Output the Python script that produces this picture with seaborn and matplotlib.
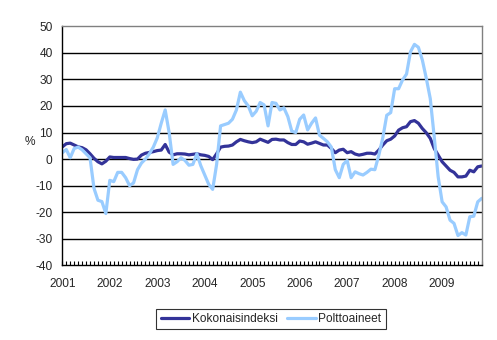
import matplotlib
matplotlib.use("Agg")
import matplotlib.pyplot as plt
from matplotlib.ticker import MultipleLocator
import numpy as np
import pandas as pd
import seaborn as sns

# Annual change (%) by month, January 2001 - November 2009
kokonaisindeksi = [
    4.6, 5.8, 6.0, 5.3, 4.6, 4.3, 3.5, 2.0, 0.3, -1.0, -1.8, -0.8,
    0.8, 0.6, 0.6, 0.6, 0.6, 0.2, -0.1, 0.0, 1.5, 2.2, 2.5, 2.8,
    3.2, 3.4, 5.5, 2.6, 1.6, 2.0, 2.0, 1.9, 1.6, 1.8, 2.0, 1.6,
    1.4, 1.0, -0.2, 2.0, 4.5, 4.8, 4.9, 5.3, 6.5, 7.4, 6.9, 6.5,
    6.2, 6.5, 7.5, 6.9, 6.3, 7.4, 7.5, 7.2, 7.2, 6.2, 5.5, 5.5,
    6.8, 6.5, 5.6, 6.0, 6.5, 5.9, 5.3, 5.3, 4.0, 2.4, 3.4, 3.7,
    2.4, 2.8, 1.9, 1.5, 1.8, 2.2, 2.2, 1.9, 3.4, 5.3, 6.9, 7.5,
    8.7, 10.9, 11.8, 12.2, 14.1, 14.5, 13.5, 11.5, 9.9, 7.8, 4.0, 1.5,
    -1.0, -2.6, -4.2, -5.0, -6.7, -6.7, -6.4, -4.2, -4.8, -2.9, -2.6,
]
polttoaineet = [
    2.4, 3.6, 0.5, 4.0, 4.5, 3.5, 2.0, 0.5, -11.0, -15.5, -16.0, -20.5,
    -8.0, -8.5, -5.0, -5.0, -7.0, -10.0, -9.0, -4.0, -1.5, 0.0, 2.0, 4.5,
    8.0, 13.5, 18.5, 10.0, -2.0, -1.0, 0.5, -0.5, -2.3, -2.0, 2.0, -2.5,
    -6.0, -9.5, -11.4, -2.0, 12.5, 13.0, 13.5, 15.0, 18.5, 25.2, 22.0, 20.0,
    16.3, 18.0, 21.3, 20.4, 12.5, 21.3, 21.0, 18.5, 19.3, 16.0, 10.5, 10.0,
    15.0, 16.6, 11.0, 13.5, 15.5, 9.0, 7.8, 6.5, 4.5, -4.0, -7.0, -2.0,
    -0.5, -7.0, -4.8, -5.5, -6.0, -5.0, -3.8, -4.0, 1.5, 8.0, 16.5, 17.5,
    26.5, 26.5, 29.8, 32.0, 40.4, 43.2, 42.1, 37.3, 30.4, 22.8, 8.4, -6.7,
    -16.1, -18.0, -23.0, -24.2, -28.8, -27.7, -28.6, -21.7, -21.5, -16.1, -14.8,
]
years = ["2001", "2002", "2003", "2004", "2005", "2006", "2007", "2008", "2009"]
series_names = ["Kokonaisindeksi", "Polttoaineet"]
series_colors = ["#333399", "#99CCFF"]

month = np.arange(len(kokonaisindeksi))
df = pd.DataFrame({
    "month": np.concatenate([month, month]),
    "value": kokonaisindeksi + polttoaineet,
    "series": [series_names[0]] * len(month) + [series_names[1]] * len(month),
})

sns.set_style("white")
plt.rcParams["font.family"] = ["Liberation Sans", "DejaVu Sans"]
FS = 8.6

fig = plt.figure(figsize=(4.97, 3.40), dpi=100)
ax = fig.add_axes([0.1254, 0.2197, 0.8438, 0.7029])

sns.lineplot(data=df, x="month", y="value", hue="series",
             palette=dict(zip(series_names, series_colors)),
             linewidth=2.3, ax=ax, legend=False)

ax.set_xlim(0, len(month) - 1)
ax.set_ylim(-40, 50)
ax.set_yticks(np.arange(-40, 51, 10))
ax.set_yticklabels([str(v) for v in range(-40, 51, 10)])

ax.set_xticks(np.arange(0, 12 * len(years), 12))
ax.set_xticklabels(years)
ax.xaxis.set_minor_locator(MultipleLocator(1))

ax.set_xlabel("")
ax.set_ylabel("")

# horizontal gridlines at every 10 %
for v in range(-30, 50, 10):
    ax.axhline(v, color="black", linewidth=1.0, zorder=0.5)

for side in ("top", "right"):
    ax.spines[side].set_color("#808080")
    ax.spines[side].set_linewidth(1.0)
for side in ("left", "bottom"):
    ax.spines[side].set_color("black")
    ax.spines[side].set_linewidth(1.0)

ax.tick_params(axis="y", direction="out", length=3, width=1, color="black",
               labelsize=FS, pad=4)
ax.tick_params(axis="x", which="both", direction="in", length=3, width=0.8,
               color="black", labelsize=FS, pad=9.5, bottom=True)

fig.text(30 / 497, 1 - 142 / 340, "%", fontsize=FS, ha="center", va="center")

handles = [plt.Line2D([], [], color=c, linewidth=2.3) for c in series_colors]
leg = fig.legend(handles, series_names, loc="center", ncol=2,
                 bbox_to_anchor=(271 / 497, 1 - 319 / 340), fontsize=FS,
                 frameon=True, fancybox=False, edgecolor="black",
                 handlelength=2.4, handletextpad=0.2, columnspacing=0.8,
                 borderpad=0.35, borderaxespad=0)
leg.get_frame().set_linewidth(0.8)

fig.savefig("out.png", dpi=100, facecolor="white")
